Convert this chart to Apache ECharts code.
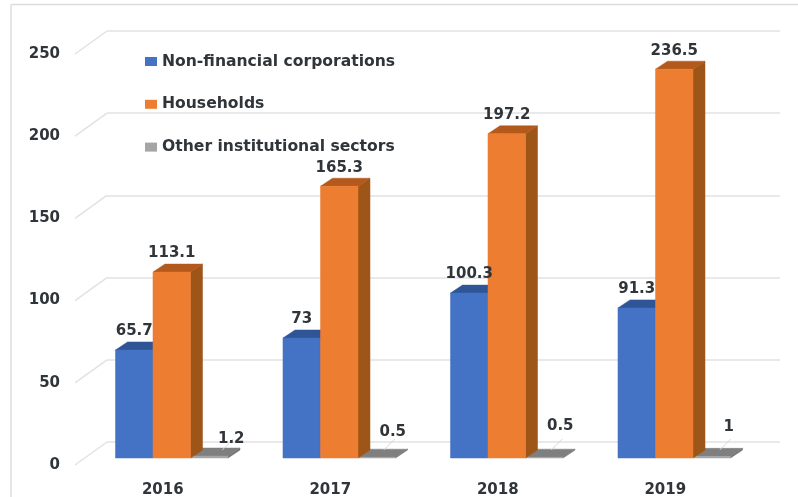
<!DOCTYPE html>
<html><head><meta charset="utf-8">
<style>html,body{margin:0;padding:0;background:#fff}#c{width:798px;height:497px;filter:blur(0.45px)}</style>
<script src="https://cdn.jsdelivr.net/npm/echarts@6/dist/echarts.min.js"></script>
</head><body><div id="c"></div>
<script>
const categories = ['2016','2017','2018','2019'];
const nonFinancial = [65.7,73,100.3,91.3];
const households = [113.1,165.3,197.2,236.5];
const otherSectors = [1.2,0.5,0.5,1];
const yTicks = [0,50,100,150,200,250];

const FONT = '"DejaVu Sans"';
const TEXT = '#30353a';
const chart = echarts.init(document.getElementById('c'));

// bar plane sits between the floor's front edge and the back wall
const PLANE_DX = 9, PLANE_DY = -7, DEPTH_X = 12, DEPTH_Y = 8;
const BAND_SHARE = 0.224;
const grayNudge = [[22,-19],[16,-26],[16,-32],[17,-31]];

function geom(api, slot){
  const i = api.value(0), v = api.value(1);
  const p = api.coord([i, v]), b = api.coord([i, 0]);
  const w = api.size([1,0])[0] * BAND_SHARE;
  const x0 = p[0] + PLANE_DX + (slot - 1.5) * w;
  return {i, v, w, x0, x1: x0 + w, top: p[1] + PLANE_DY, base: b[1] + PLANE_DY};
}
function poly(points, fill, stroke){
  return {type:'polygon', shape:{points}, style:{fill, stroke: stroke||fill, lineWidth:0.5}};
}
function barRender(slot, front, top, side){
  return function(params, api){
    const g = geom(api, slot);
    return {type:'group', children:[
      poly([[g.x1,g.base],[g.x1+DEPTH_X,g.base-DEPTH_Y],[g.x1+DEPTH_X,g.top-DEPTH_Y],[g.x1,g.top]], side),
      poly([[g.x0,g.top],[g.x0+DEPTH_X,g.top-DEPTH_Y],[g.x1+DEPTH_X,g.top-DEPTH_Y],[g.x1,g.top]], top),
      poly([[g.x0,g.base],[g.x1,g.base],[g.x1,g.top],[g.x0,g.top]], front)
    ]};
  };
}
function labelRender(slot){
  return function(params, api){
    const g = geom(api, slot);
    const cx = (g.x0 + g.x1) / 2;
    const children = [];
    let x = cx, y = g.top - 18.5;
    if (slot === 2) {
      const n = grayNudge[g.i];
      x = cx + n[0]; y = g.base + n[1];
      children.push({type:'line', shape:{x1:x-9, y1:g.base-8, x2:x+2, y2:g.base-19},
        style:{stroke:'#d6d6d6', lineWidth:1}});
    }
    children.push({type:'text', x, y, style:{text:String(g.v), fill:TEXT,
      font:'bold 15px '+FONT, align:'center', verticalAlign:'middle'}});
    return {type:'group', children};
  };
}
const pairs = arr => arr.map((v,i)=>[i,v]);
const barSeries = (name, arr, slot, front, top, side, z) => ({
  name, type:'custom', xAxisIndex:0, yAxisIndex:0, z,
  itemStyle:{color:front}, data:pairs(arr),
  encode:{x:0,y:1}, renderItem:barRender(slot,front,top,side)
});
const labelSeries = (arr, slot) => ({
  type:'custom', xAxisIndex:0, yAxisIndex:0, z:10, silent:true,
  data:pairs(arr), encode:{x:0,y:1}, renderItem:labelRender(slot)
});
// wall diagonals run from the floor's front edge back to the wall grid line
const wallSeries = {
  type:'custom', xAxisIndex:0, yAxisIndex:0, z:1, silent:true,
  data:yTicks.map(v=>[0,v]), encode:{x:0,y:1},
  renderItem:function(params, api){
    const y = api.coord([0, api.value(1)])[1];
    const x = params.coordSys.x;
    return {type:'line', shape:{x1:x-4, y1:y, x2:x+28, y2:y-23},
      style:{stroke:'#e2e2e2', lineWidth:1.5}};
  }
};

chart.setOption({
  animation:false,
  backgroundColor:'#fff',
  textStyle:{fontFamily:FONT},
  graphic:[
    {type:'line', z:0, shape:{x1:11,y1:4.5,x2:798,y2:4.5}, style:{stroke:'#dcdcdc',lineWidth:1.5}},
    {type:'line', z:0, shape:{x1:11,y1:4.5,x2:11,y2:497}, style:{stroke:'#dcdcdc',lineWidth:1.5}}
  ],
  legend:{
    orient:'vertical', left:140, top:48.5, itemWidth:12, itemHeight:9, itemGap:26.8,
    icon:'rect',
    data:['Non-financial corporations','Households','Other institutional sectors'],
    textStyle:{color:TEXT, fontWeight:'bold', fontSize:15.6, fontFamily:FONT}
  },
  grid:[
    {left:79, right:49, top:54, bottom:32, outerBoundsMode:'none'},
    {left:107, right:18, top:31, bottom:55, outerBoundsMode:'none'}
  ],
  xAxis:[
    {type:'category', gridIndex:0, data:categories,
     axisLine:{show:false}, axisTick:{show:false},
     axisLabel:{color:TEXT, fontWeight:'bold', fontSize:15, fontFamily:FONT, margin:18}},
    {type:'category', gridIndex:1, data:categories, show:false}
  ],
  yAxis:[
    {type:'value', gridIndex:0, min:0, max:250, interval:50,
     axisLine:{show:false}, axisTick:{show:false}, splitLine:{show:false},
     axisLabel:{color:TEXT, fontWeight:'bold', fontSize:15, fontFamily:FONT, margin:19}},
    {type:'value', gridIndex:1, min:0, max:250, interval:50,
     axisLine:{show:false}, axisTick:{show:false}, axisLabel:{show:false},
     splitLine:{show:true, lineStyle:{color:'#e2e2e2', width:1.5}}}
  ],
  series:[
    wallSeries,
    barSeries('Non-financial corporations', nonFinancial, 0, '#4472c4', '#2f5597', '#2f5597', 3),
    barSeries('Households', households, 1, '#ed7d31', '#b3591c', '#9e5518', 4),
    barSeries('Other institutional sectors', otherSectors, 2, '#a5a5a5', '#7f7f7f', '#6f6f6f', 2),
    labelSeries(nonFinancial,0), labelSeries(households,1), labelSeries(otherSectors,2)
  ]
});
</script></body></html>
